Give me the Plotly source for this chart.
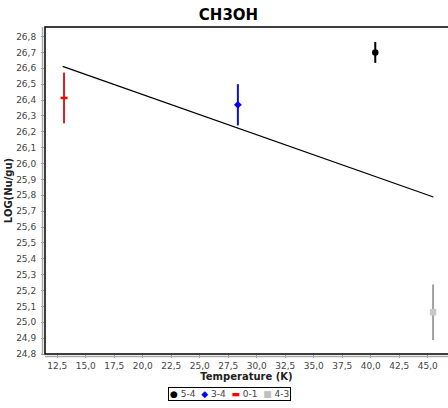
import plotly.graph_objects as go

# ---- data ----
series_names = ["5-4", "3-4", "0-1", "4-3"]
temp_54 = [40.4]
logn_54 = [26.70]
err_54 = [0.066]

temp_34 = [28.35]
logn_34 = [26.37]
err_34 = [0.13]

temp_01 = [13.1]
logn_01 = [26.413]
err_01 = [0.16]

temp_43 = [45.47]
logn_43 = [25.063]
err_43 = [0.175]

fit_temp = [12.98, 45.5]
fit_logn = [26.612, 25.789]

x_range = [11.43, 46.78]
y_range = [24.8, 26.86]

FONT = "DejaVu Sans"
PW, PH = 403.0, 327.0  # plot area size in px

fig = go.Figure()

fig.add_trace(go.Scatter(x=fit_temp, y=fit_logn, mode="lines",
                         line=dict(color="black", width=1.3), showlegend=False,
                         hoverinfo="skip"))

def pt(x, y, e, color, ecolor, symbol, size, name, mline=0):
    fig.add_trace(go.Scatter(
        x=x, y=y, mode="markers", name=name, showlegend=False,
        marker=dict(color=color, symbol=symbol, size=size,
                    line=dict(color=color, width=mline)),
        error_y=dict(type="data", array=e, visible=True, color=ecolor,
                     thickness=2, width=0)))

pt(temp_54, logn_54, err_54, "black", "black", "circle", 6.5, series_names[0])
pt(temp_34, logn_34, err_34, "#0000ff", "#1010d0", "diamond", 6, series_names[1])
pt(temp_01, logn_01, err_01, "#ff0000", "#d02020", "line-ew", 5, series_names[2], mline=2.5)
pt(temp_43, logn_43, err_43, "#c8c8c8", "#a0a0a0", "square", 6.5, series_names[3])

tickfont = dict(family=FONT, size=9, color="#444444")

fig.update_layout(
    width=448, height=408,
    margin=dict(l=45, r=0, t=27, b=54),
    paper_bgcolor="white", plot_bgcolor="white",
    separators=", ",
    title=dict(text="<b>CH3OH</b>", x=228.5 / 448, xref="container", xanchor="center",
               y=1 - 15 / 408, yref="container", yanchor="middle",
               font=dict(family=FONT, size=15, color="black")),
    xaxis=dict(range=x_range, tick0=12.5, dtick=2.5, tickformat=".1f",
               showgrid=False, zeroline=False, ticks="outside", ticklen=3,
               tickcolor="#999999", tickfont=tickfont,
               title=dict(text="<b>Temperature (K)</b>", standoff=3,
                          font=dict(family=FONT, size=10, color="#222222"))),
    yaxis=dict(range=y_range, tick0=24.8, dtick=0.1, tickformat=".1f",
               showgrid=False, zeroline=False, ticks="outside", ticklen=3,
               ticklabelstandoff=3,
               tickcolor="#999999", tickfont=tickfont,
               title=dict(text="<b>LOG(Nu/gu)</b>", standoff=1,
                          font=dict(family=FONT, size=10, color="#222222"))),
    showlegend=False,
)

# plot outline (black) and axis lines (gray), JFreeChart style
fig.add_shape(type="rect", xref="paper", yref="paper", x0=0, x1=1.01, y0=0, y1=1,
              line=dict(color="black", width=1.5))
fig.add_shape(type="line", xref="paper", yref="paper", x0=-2.5 / PW, x1=-2.5 / PW,
              y0=0, y1=1, line=dict(color="#aaaaaa", width=1.5))
fig.add_shape(type="line", xref="paper", yref="paper", x0=0, x1=1.01,
              y0=-2.5 / PH, y1=-2.5 / PH, line=dict(color="#aaaaaa", width=1.5))

# legend drawn as a bordered text box
legend_items = [("black", "●"), ("#0000ff", "◆"), ("#ff0000", "▬"), ("#c0c0c0", "■")]
parts = []
for (c, s), n in zip(legend_items, series_names):
    parts.append(f"<span style='color:{c}'>{s}</span> {n}")
fig.add_annotation(text="  ".join(parts), xref="paper", yref="paper",
                   x=(229.5 - 45) / PW, y=(354 - 394) / PH, xanchor="center", yanchor="middle",
                   showarrow=False, bordercolor="black", borderwidth=1, borderpad=1,
                   font=dict(family=FONT, size=9, color="#444444"), bgcolor="white")

fig.write_html("out.html")
